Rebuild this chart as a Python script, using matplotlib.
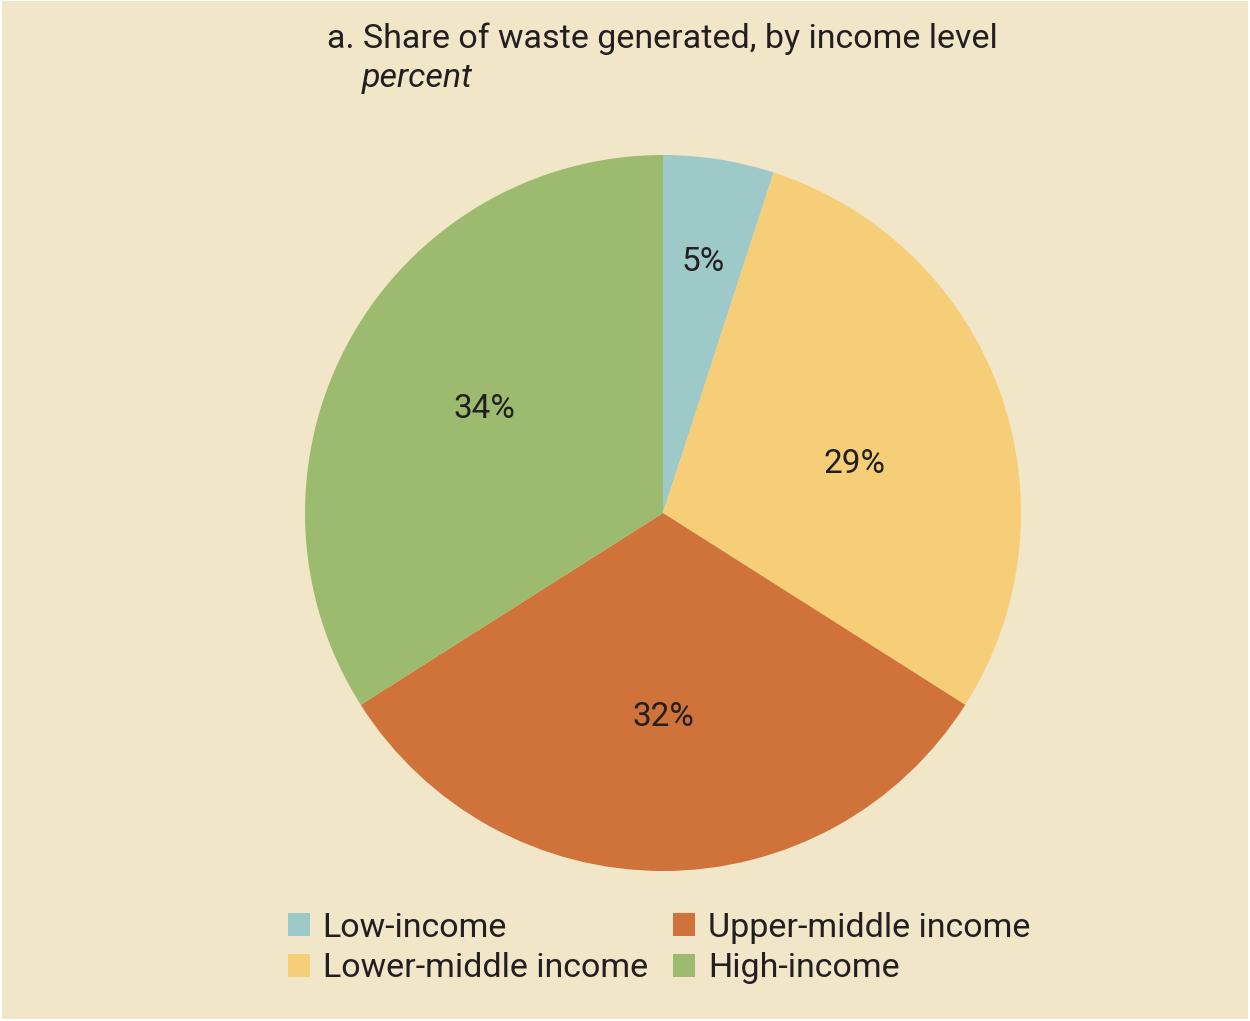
import matplotlib
matplotlib.use("Agg")
import matplotlib.pyplot as plt
from matplotlib.patches import Rectangle

# Share of waste generated, by income level (percent)
categories = ["Low-income", "Lower-middle income", "Upper-middle income", "High-income"]
shares = [5, 29, 32, 34]
colors = ["#9DC9C9", "#F6CE78", "#D0733A", "#9DBB6E"]

BG = "#F2E6C9"
INK = "#231F20"
plt.rcParams["font.family"] = ["Roboto", "DejaVu Sans"]

W, H = 1250, 1021
fig = plt.figure(figsize=(W / 100, H / 100), dpi=100, facecolor="white")
fig.patches.append(Rectangle((2 / W, 2 / H), (W - 4) / W, (H - 3) / H,
                             transform=fig.transFigure, facecolor=BG,
                             edgecolor="none", zorder=-1))

ax = fig.add_axes([305 / W, 150 / H, 716 / W, 716 / H])
ax.set_facecolor("none")
wedges, texts, autotexts = ax.pie(
    shares, colors=colors, startangle=90, counterclock=False,
    autopct=lambda p: f"{p:.0f}%", pctdistance=0.57,
    wedgeprops=dict(linewidth=0),
    textprops=dict(color=INK, fontsize=24),
)
# the narrow slice carries its label further out
x, y = autotexts[0].get_position()
autotexts[0].set_position((x * 0.71 / 0.57, y * 0.71 / 0.57))
# lower-middle label sits a little below its slice's bisector
x, y = autotexts[1].get_position()
autotexts[1].set_position((x, y - 0.055))
x, y = autotexts[3].get_position()
autotexts[3].set_position((x, y + 0.015))
ax.set_xlim(-1, 1)
ax.set_ylim(-1, 1)

fig.text(327 / W, 1 - 48 / H, "a. Share of waste generated, by income level",
         ha="left", va="baseline", fontsize=24.5, color=INK)
fig.text(362 / W, 1 - 87 / H, "percent", ha="left", va="baseline",
         fontsize=24.5, style="italic", color=INK)

leg = fig.legend(wedges, categories, ncol=2, loc="upper left",
                 bbox_to_anchor=(257 / W, 1 - 881 / H), frameon=False,
                 fontsize=24.5, handlelength=0.65, handleheight=0.65,
                 handletextpad=0.38, columnspacing=0.75, labelspacing=0.25,
                 labelcolor=INK)

fig.savefig("out.png", dpi=100, facecolor="white")
